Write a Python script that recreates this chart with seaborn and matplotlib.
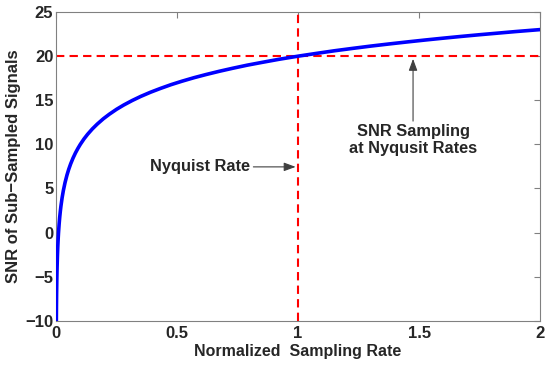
import matplotlib
matplotlib.use("Agg")
import matplotlib.pyplot as plt
import seaborn as sns
import pandas as pd

# values
rate = [0.001, 0.0015, 0.002, 0.003, 0.004, 0.0055, 0.007, 0.0085, 0.01, 0.0125,
        0.015, 0.0175, 0.02, 0.025, 0.03, 0.037, 0.045, 0.052, 0.06, 0.07,
        0.08, 0.09, 0.1, 0.115, 0.13, 0.15, 0.17, 0.195, 0.22, 0.25,
        0.28, 0.315, 0.35, 0.39, 0.43, 0.475, 0.52, 0.57, 0.62, 0.675,
        0.73, 0.79, 0.85, 0.92, 1.0, 1.075, 1.15, 1.225, 1.3, 1.375,
        1.45, 1.525, 1.6, 1.675, 1.75, 1.825, 1.9, 1.95, 2.0]
snr = [-10.00, -8.24, -6.99, -5.23, -3.98, -2.60, -1.55, -0.71, 0.00, 0.97,
       1.76, 2.43, 3.01, 3.98, 4.77, 5.68, 6.53, 7.16, 7.78, 8.45,
       9.03, 9.54, 10.00, 10.61, 11.14, 11.76, 12.30, 12.90, 13.42, 13.98,
       14.47, 14.98, 15.44, 15.91, 16.33, 16.77, 17.16, 17.56, 17.92, 18.29,
       18.63, 18.98, 19.29, 19.64, 20.00, 20.31, 20.61, 20.88, 21.14, 21.38,
       21.61, 21.83, 22.04, 22.24, 22.43, 22.61, 22.79, 22.90, 23.01]
nyquist_rate = 1.0
nyquist_snr = 20.0
xticks = [0, 0.5, 1, 1.5, 2]
xtick_labels = ["0", "0.5", "1", "1.5", "2"]
yticks = [-10, -5, 0, 5, 10, 15, 20, 25]

df = pd.DataFrame({"rate": rate, "snr": snr})

sns.set_style("white")
plt.rcParams["font.family"] = ["Liberation Sans", "DejaVu Sans"]
plt.rcParams["font.weight"] = "bold"

fig = plt.figure(figsize=(5.5, 3.65), dpi=100)
ax = fig.add_axes([0.102, 0.121, 0.88, 0.846])

ax.axvline(nyquist_rate, color="#ff0000", lw=1.5, ls=(0, (4, 2.5)), zorder=1)
ax.axhline(nyquist_snr, color="#ff0000", lw=1.5, ls=(0, (4, 2.5)), zorder=1)
sns.lineplot(data=df, x="rate", y="snr", color="#0000ff", lw=2.6, ax=ax, zorder=3)

ax.set_xlim(0, 2)
ax.set_ylim(-10, 25)
ax.set_xticks(xticks)
ax.set_xticklabels(xtick_labels)
ax.set_yticks(yticks)
ax.tick_params(direction="in", length=4, color="0.5", width=0.8,
               top=True, right=True, labelsize=12)
ax.tick_params(axis="x", pad=4)
ax.tick_params(axis="y", pad=2)
for lbl in ax.get_xticklabels() + ax.get_yticklabels():
    lbl.set_fontweight("bold")
for sp in ax.spines.values():
    sp.set_color("0.5")
    sp.set_linewidth(0.8)

ax.set_xlabel("Normalized  Sampling Rate", fontsize=11.5, fontweight="bold", labelpad=2)
ax.set_ylabel("SNR of Sub\u2212Sampled Signals", fontsize=12, fontweight="bold", labelpad=3)

arrow = dict(arrowstyle="-|>,head_length=0.6,head_width=0.22", color="0.25", lw=0.8,
             shrinkA=0, shrinkB=0)
ax.annotate("Nyquist Rate", xy=(0.99, 7.45), xytext=(0.595, 7.45),
            ha="center", va="center", fontsize=11.8, fontweight="bold",
            arrowprops=arrow)
ax.annotate("SNR Sampling\nat Nyqusit Rates", xy=(1.475, 19.7), xytext=(1.475, 10.5),
            ha="center", va="center", fontsize=11.8, fontweight="bold",
            linespacing=1.1, arrowprops=arrow)

fig.savefig("out.png", dpi=100)
